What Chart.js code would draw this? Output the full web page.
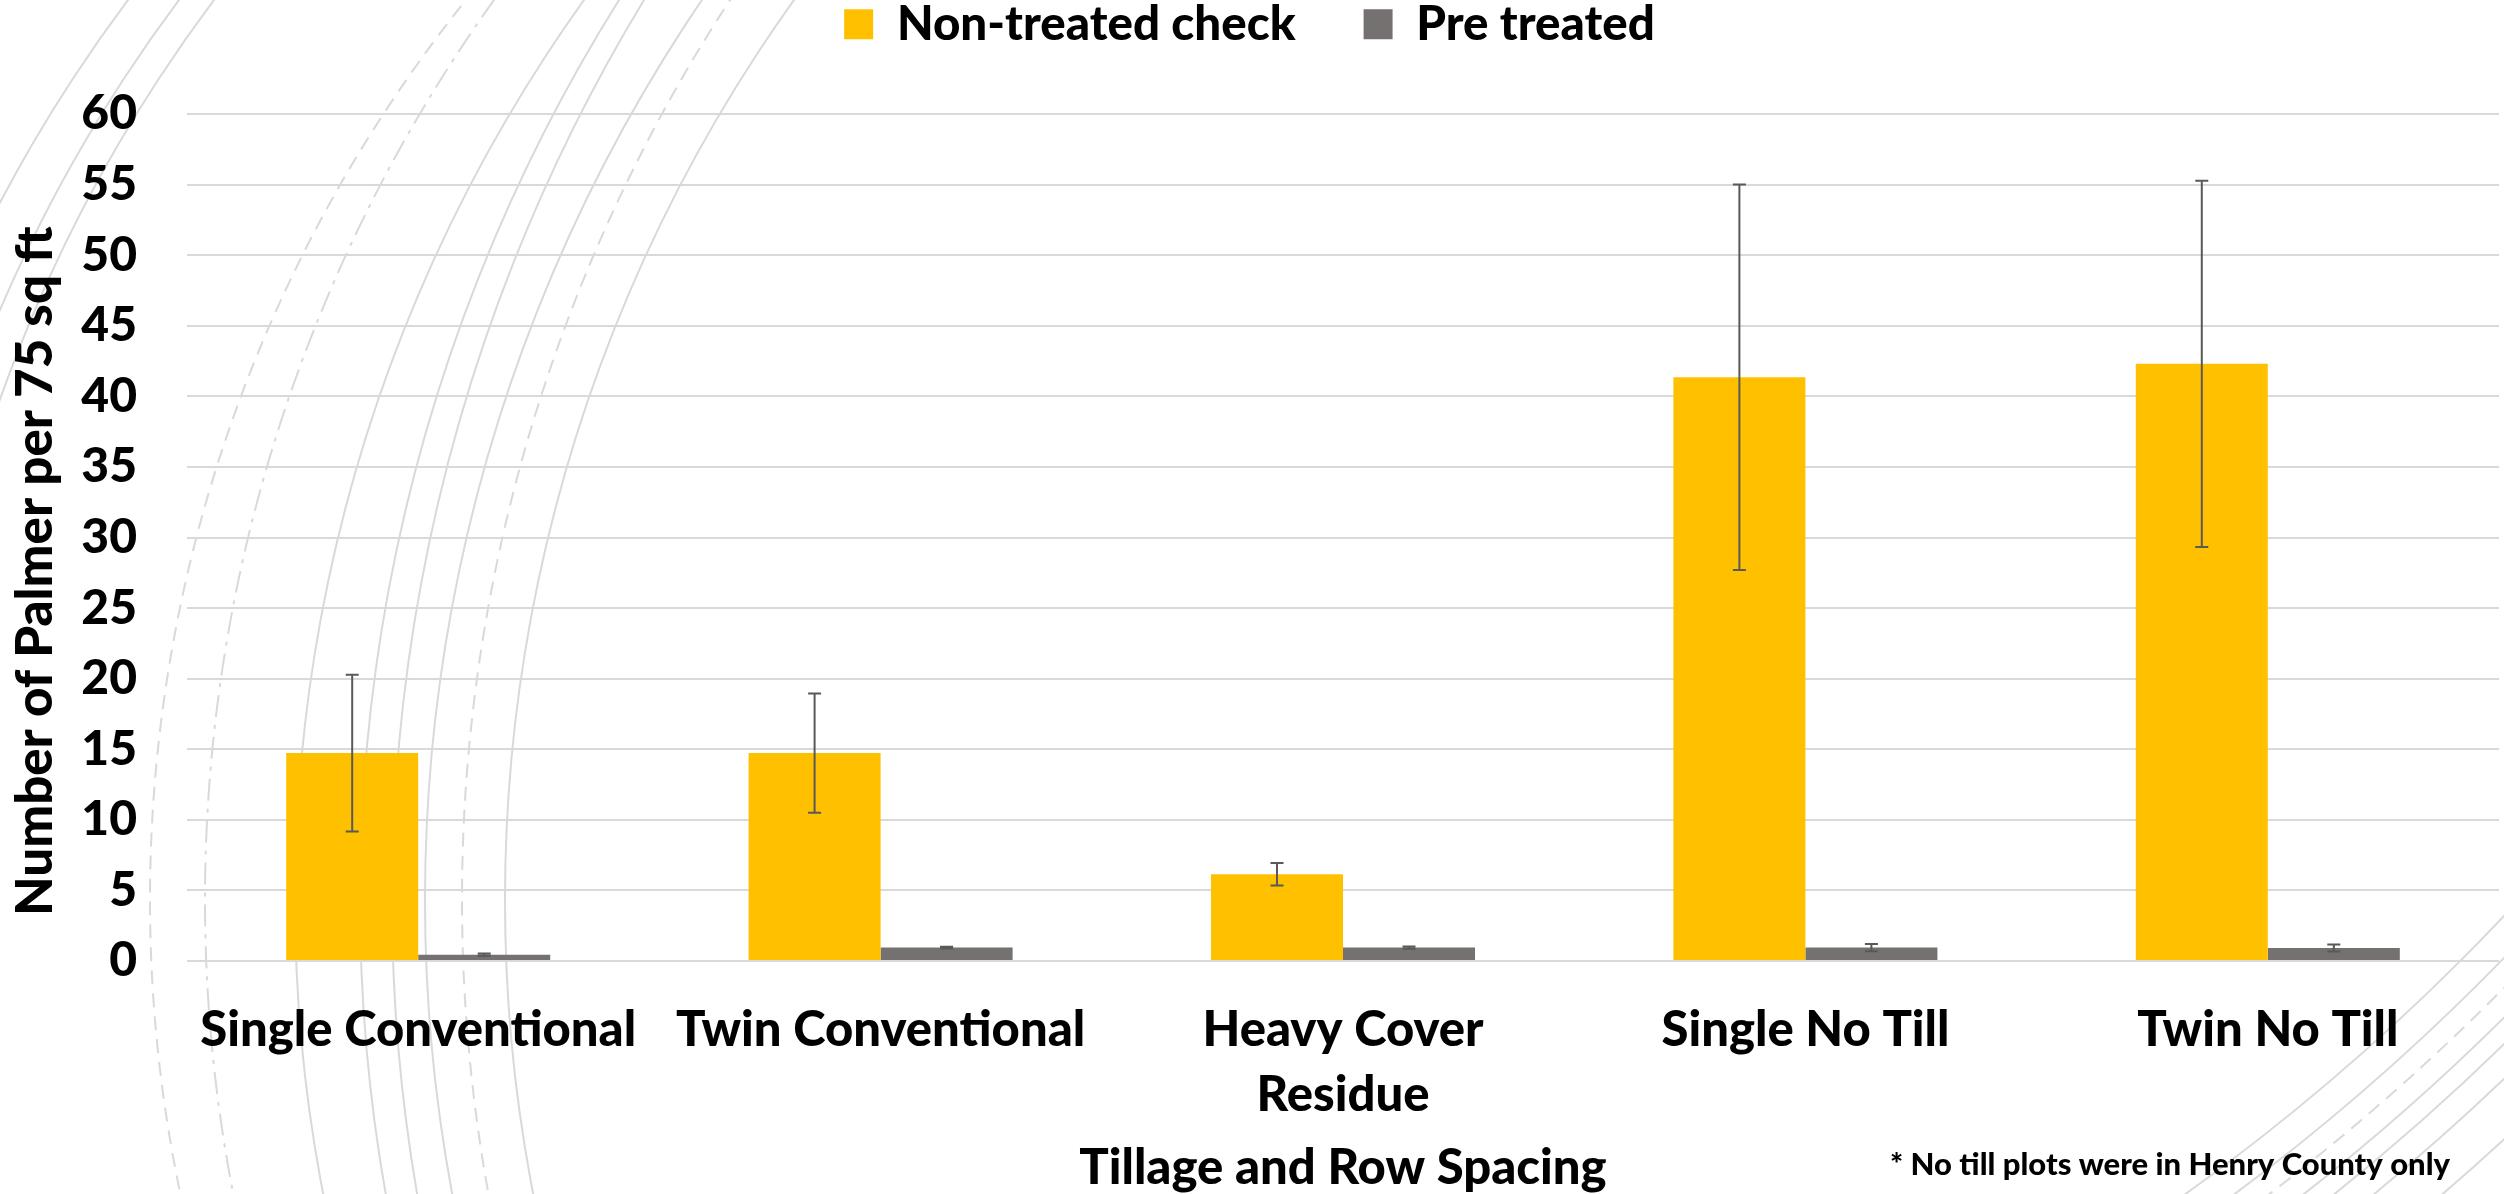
<!DOCTYPE html>
<html>
<head>
<meta charset="utf-8">
<title>Palmer amaranth counts by tillage and row spacing</title>
<script src="https://cdn.jsdelivr.net/npm/chart.js@4.4.1/dist/chart.umd.min.js"></script>
<style>
  html, body { margin: 0; padding: 0; background: #fff; }
  #wrap { width: 2504px; height: 1194px; position: relative; }
</style>
</head>
<body>
<div id="wrap"><canvas id="palmerChart"></canvas></div>
<script>
// data
const categories = ['Single Conventional', 'Twin Conventional', ['Heavy Cover', 'Residue'], 'Single No Till', 'Twin No Till'];
const seriesNames = ['Non-treated check', 'Pre treated'];
const nonTreated = [14.73, 14.73, 6.15, 41.35, 42.3];
const nonTreatedErr = [5.55, 4.22, 0.8, 13.65, 12.97];
const preTreated = [0.45, 0.95, 0.95, 0.95, 0.92];
const preTreatedErr = [0.08, 0.06, 0.08, 0.26, 0.24];
const yMin = 0, yMax = 60, yStep = 5;

const yTitle = 'Number of Palmer per 75 sq ft';
const xTitle = 'Tillage and Row Spacing';
const footnote = '* No till plots were in Henry County only';

const FONT = 'Lato';
const WEIGHT = '900';
const YELLOW = '#FFC000';
const GREY = '#767171';
const GRID = '#d9d9d9';

// light grey theme arcs behind the chart
const decoArcs = [
  // left group
  [1328, 900, 1500, []], [1379, 900, 1500, []], [1414, 900, 1500, []],
  [1590, 900, 1440, [14, 9]], [1751, 900, 1546, [22, 8, 4, 8]],
  [1841, 900, 1546, []], [2053, 900, 1693, []], [2125, 900, 1733, []],
  [2026, 900, 1601, []], [2107, 900, 1645, [14, 9]], [2051, 900, 1546, []],
  // bottom right group
  [900, -600, 2207, []], [900, -600, 2236, []], [900, -600, 2257, [14, 9]],
  [900, -600, 2278, []], [900, -600, 2297, []], [900, -600, 2322, []], [900, -600, 2366, []]
];

const background = {
  id: 'background',
  beforeDraw(chart) {
    const ctx = chart.ctx;
    ctx.save();
    ctx.fillStyle = '#fff';
    ctx.fillRect(0, 0, chart.width, chart.height);
    ctx.strokeStyle = GRID;
    ctx.lineWidth = 2;
    decoArcs.forEach(([cx, cy, r, dash]) => {
      ctx.setLineDash(dash);
      ctx.beginPath();
      ctx.arc(cx, cy, r, 0, Math.PI * 2);
      ctx.stroke();
    });
    ctx.restore();
  }
};

const legendSpace = {
  id: 'legendSpace',
  beforeInit(chart) {
    const fit = chart.legend.fit;
    chart.legend.fit = function () {
      fit.call(this);
      this.height = 181.5;
    };
  }
};

const errorBars = {
  id: 'errorBars',
  afterDatasetsDraw(chart) {
    const { ctx, scales: { y } } = chart;
    ctx.save();
    ctx.strokeStyle = '#595959';
    ctx.lineWidth = 2;
    chart.data.datasets.forEach((ds, i) => {
      chart.getDatasetMeta(i).data.forEach((bar, j) => {
        const v = ds.data[j], e = ds.errors[j];
        const top = y.getPixelForValue(v + e);
        const bot = y.getPixelForValue(v - e);
        ctx.beginPath();
        ctx.moveTo(bar.x, top); ctx.lineTo(bar.x, bot);
        ctx.moveTo(bar.x - 6.5, top); ctx.lineTo(bar.x + 6.5, top);
        ctx.moveTo(bar.x - 6.5, bot); ctx.lineTo(bar.x + 6.5, bot);
        ctx.stroke();
      });
    });
    ctx.restore();
  }
};

const extraText = {
  id: 'extraText',
  afterDraw(chart) {
    const ctx = chart.ctx;
    const area = chart.chartArea;
    ctx.save();
    ctx.fillStyle = '#000';
    ctx.textBaseline = 'alphabetic';

    ctx.font = `${WEIGHT} 49px ${FONT}`;
    ctx.textAlign = 'center';
    ctx.fillText(xTitle, (area.left + area.right) / 2, 1184);

    ctx.font = `${WEIGHT} 51px ${FONT}`;
    ctx.save();
    ctx.translate(52, 571);
    ctx.rotate(-Math.PI / 2);
    ctx.fillText(yTitle, 0, 0);
    ctx.restore();

    ctx.font = `${WEIGHT} 31px ${FONT}`;
    ctx.textAlign = 'right';
    ctx.fillText(footnote, 2450, 1175);
    ctx.restore();
  }
};

new Chart(document.getElementById('palmerChart'), {
  type: 'bar',
  data: {
    labels: categories,
    datasets: [
      { label: seriesNames[0], data: nonTreated, errors: nonTreatedErr, backgroundColor: YELLOW },
      { label: seriesNames[1], data: preTreated, errors: preTreatedErr, backgroundColor: GREY }
    ]
  },
  options: {
    responsive: true,
    maintainAspectRatio: false,
    animation: false,
    layout: { padding: { top: -67.5, left: 0, right: 5, bottom: 0 } },
    datasets: { bar: { categoryPercentage: 0.571, barPercentage: 1 } },
    plugins: {
      tooltip: { enabled: false },
      legend: {
        position: 'top',
        labels: {
          boxWidth: 29,
          boxHeight: 30,
          padding: 68,
          color: '#000',
          font: { family: FONT, size: 47.5, weight: WEIGHT }
        }
      }
    },
    scales: {
      x: {
        grid: { display: false, drawTicks: false },
        border: { display: false },
        ticks: {
          color: '#000',
          padding: 37,
          maxRotation: 0,
          font: { family: FONT, size: 49, weight: WEIGHT, lineHeight: 1.32 }
        },
        afterFit(scale) { scale.height = 233; }
      },
      y: {
        min: yMin,
        max: yMax,
        grid: { color: GRID, lineWidth: 2, drawTicks: false },
        border: { display: false },
        ticks: {
          stepSize: yStep,
          color: '#000',
          padding: 50,
          font: { family: FONT, size: 48, weight: WEIGHT }
        },
        afterFit(scale) { scale.width = 187; }
      }
    }
  },
  plugins: [background, legendSpace, errorBars, extraText]
});
</script>
</body>
</html>
